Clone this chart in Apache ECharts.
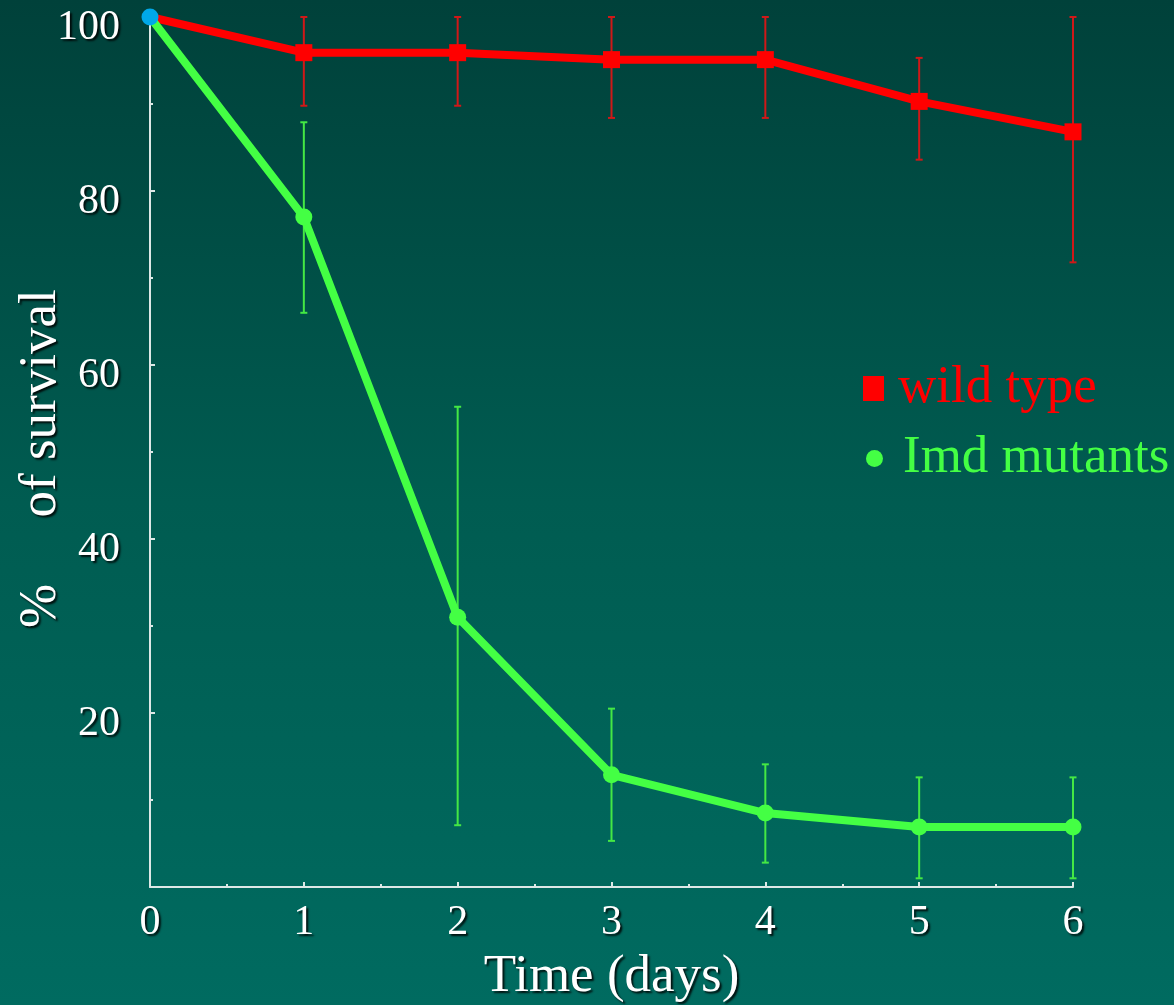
<!DOCTYPE html>
<html>
<head>
<meta charset="utf-8">
<title>Survival</title>
<script src="https://cdn.jsdelivr.net/npm/echarts@6/dist/echarts.min.js"></script>
<style>
  html, body { margin: 0; padding: 0; }
  #chart { width: 1174px; height: 1005px; }
</style>
</head>
<body>
<div id="chart"></div>
<script>
// days
var days = [0, 1, 2, 3, 4, 5, 6];
// wild type: mean, lower, upper (% survival)
var wildMean = [100, 95.9, 95.9, 95.1, 95.1, 90.3, 86.8];
var wildLow = [100, 89.8, 89.8, 88.4, 88.4, 83.6, 71.8];
var wildHigh = [100, 100, 100, 100, 100, 95.3, 100];
// Imd mutants
var imdMean = [100, 77.0, 31.0, 12.9, 8.5, 6.9, 6.9];
var imdLow = [100, 66.0, 7.1, 5.3, 2.8, 1.0, 1.0];
var imdHigh = [100, 87.9, 55.2, 20.5, 14.1, 12.6, 12.6];

var serif = '"Liberation Serif", "Times New Roman", "DejaVu Serif", serif';
var shadow = { textShadowColor: 'rgba(0,0,0,0.85)', textShadowBlur: 2, textShadowOffsetX: 2, textShadowOffsetY: 2 };

function pairs(ys) {
    return days.map(function (d, i) { return [d, ys[i]]; });
}
function bars(lo, hi) {
    return days.slice(1).map(function (d, k) { return [d, lo[k + 1], hi[k + 1]]; });
}
function errRender(color) {
    return function (params, api) {
        var top = api.coord([api.value(0), api.value(2)]);
        var bot = api.coord([api.value(0), api.value(1)]);
        var st = { stroke: color, lineWidth: 2 };
        return {
            type: 'group',
            children: [
                { type: 'line', shape: { x1: top[0], y1: top[1], x2: bot[0], y2: bot[1] }, style: st },
                { type: 'line', shape: { x1: top[0] - 3.5, y1: top[1], x2: top[0] + 3.5, y2: top[1] }, style: st },
                { type: 'line', shape: { x1: bot[0] - 3.5, y1: bot[1], x2: bot[0] + 3.5, y2: bot[1] }, style: st }
            ]
        };
    };
}

var wildData = pairs(wildMean);
wildData[0] = { value: wildData[0], symbolSize: 0 };
var imdData = pairs(imdMean);
imdData[0] = { value: imdData[0], itemStyle: { color: '#00a8e8' }, z: 10 };

var chart = echarts.init(document.getElementById('chart'));
chart.setOption({
    animation: false,
    backgroundColor: {
        type: 'linear', x: 0, y: 0, x2: 0, y2: 1,
        colorStops: [
            { offset: 0, color: '#00413a' },
            { offset: 0.5, color: '#005c51' },
            { offset: 1, color: '#006b60' }
        ]
    },
    textStyle: { fontFamily: serif },
    grid: { left: 150, right: 101, top: 17, bottom: 118, containLabel: false, outerBoundsMode: 'none' },
    legend: [{
        left: 858, top: 357, orient: 'vertical',
        itemWidth: 21, itemHeight: 25,
        data: [{ name: 'wild type', icon: 'rect', textStyle: { color: '#ff0000' } }],
        textStyle: { fontFamily: serif, fontSize: 53, padding: [0, 0, 0, 9] }
    }, {
        left: 861, top: 427, orient: 'vertical',
        itemWidth: 17, itemHeight: 17,
        data: [{ name: 'Imd mutants', icon: 'circle', textStyle: { color: '#44ff44' } }],
        textStyle: { fontFamily: serif, fontSize: 53, padding: [0, 0, 0, 15] }
    }],
    xAxis: {
        type: 'value', min: 0, max: 6, interval: 1,
        name: 'Time (days)', nameLocation: 'middle', nameGap: 64,
        nameTextStyle: Object.assign({ color: '#ffffff', fontSize: 53, fontFamily: serif }, shadow),
        axisLine: { lineStyle: { color: '#dde8e6', width: 2 } },
        axisTick: { inside: true, length: 5, lineStyle: { color: '#dde8e6', width: 2 } },
        minorTick: { show: true, splitNumber: 2, length: 3, lineStyle: { color: '#dde8e6', width: 2 } },
        splitLine: { show: false },
        axisLabel: Object.assign({ color: '#ffffff', fontSize: 42, margin: 15, fontFamily: serif }, shadow)
    },
    yAxis: {
        type: 'value', min: 0, max: 100, interval: 20,
        name: '%     of survival ', nameLocation: 'middle', nameGap: 82, nameMoveOverlap: false,
        nameTextStyle: Object.assign({ color: '#ffffff', fontSize: 53, fontFamily: serif }, shadow),
        axisLine: { lineStyle: { color: '#dde8e6', width: 2 } },
        axisTick: { inside: true, length: 5, lineStyle: { color: '#dde8e6', width: 2 } },
        minorTick: { show: true, splitNumber: 2, length: 3, lineStyle: { color: '#dde8e6', width: 2 } },
        splitLine: { show: false },
        axisLabel: Object.assign({
            color: '#ffffff', fontSize: 42, margin: 30, fontFamily: serif,
            verticalAlign: 'top', lineHeight: 22,
            formatter: function (v) { return v === 0 ? '' : v; }
        }, shadow)
    },
    series: [{
        type: 'custom', name: 'wild err', z: 1,
        renderItem: errRender('#d01818'),
        data: bars(wildLow, wildHigh)
    }, {
        type: 'custom', name: 'imd err', z: 1,
        renderItem: errRender('#44e844'),
        data: bars(imdLow, imdHigh)
    }, {
        type: 'line', name: 'wild type', z: 2,
        data: wildData,
        symbol: 'rect', symbolSize: 17,
        itemStyle: { color: '#ff0000' },
        lineStyle: { color: '#ff0000', width: 8 }
    }, {
        type: 'line', name: 'Imd mutants', z: 3,
        data: imdData,
        symbol: 'circle', symbolSize: 17,
        itemStyle: { color: '#44ff44' },
        lineStyle: { color: '#44ff44', width: 8 }
    }]
});
</script>
</body>
</html>
